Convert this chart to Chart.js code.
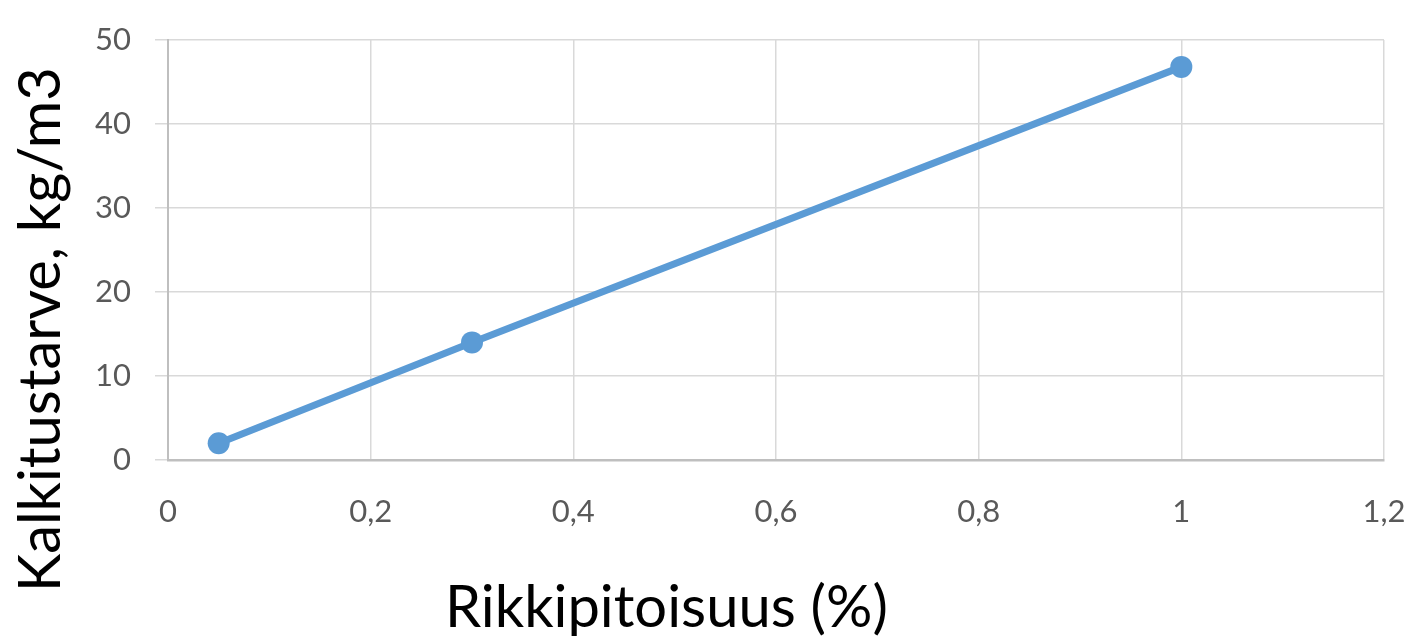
<!DOCTYPE html>
<html>
<head>
<meta charset="utf-8">
<script src="https://cdn.jsdelivr.net/npm/chart.js@4/dist/chart.umd.min.js"></script>
<style>
  html, body { margin: 0; padding: 0; background: #ffffff; }
  canvas { display: block; }
</style>
</head>
<body>
<canvas id="c" width="1415" height="636"></canvas>
<script>
// ---- data ----
const sulfurPercent = [0.05, 0.3, 1];
const limeDemand = [2, 14, 46.8];
const xTickLabels = ['0', '0,2', '0,4', '0,6', '0,8', '1', '1,2'];
const yTickLabels = ['0', '10', '20', '30', '40', '50'];
const xTitle = 'Rikkipitoisuus (%)';
const yTitle = 'Kalkitustarve, kg/m3';

const points = sulfurPercent.map((x, i) => ({ x: x, y: limeDemand[i] }));

const titlePlugin = {
  id: 'bigTitles',
  afterDraw(chart) {
    const ctx = chart.ctx;
    ctx.save();
    ctx.fillStyle = '#000000';
    let fs = 60;
    ctx.font = fs + 'px Lato';
    let w = ctx.measureText(xTitle).width;
    fs = fs * 443 / w;
    ctx.font = fs + 'px Lato';
    ctx.textAlign = 'left';
    ctx.textBaseline = 'alphabetic';
    ctx.fillText(xTitle, 445, 627);
    let fy = 60;
    ctx.font = fy + 'px Lato';
    w = ctx.measureText(yTitle).width;
    fy = fy * 525 / w;
    ctx.font = fy + 'px Lato';
    ctx.translate(60, 592);
    ctx.rotate(-Math.PI / 2);
    ctx.fillText(yTitle, 0, 0);
    ctx.restore();
  }
};

new Chart(document.getElementById('c'), {
  type: 'scatter',
  data: {
    datasets: [{
      data: points,
      showLine: true,
      borderColor: '#5B9BD5',
      backgroundColor: '#5B9BD5',
      borderWidth: 7,
      pointRadius: 11,
      pointHoverRadius: 11,
      pointBorderWidth: 0,
      tension: 0
    }]
  },
  options: {
    responsive: false,
    devicePixelRatio: 1,
    animation: false,
    layout: { padding: { left: 0, top: 40, right: 31, bottom: 0 } },
    plugins: {
      legend: { display: false },
      tooltip: { enabled: false }
    },
    scales: {
      x: {
        type: 'linear',
        min: 0,
        max: 1.2,
        afterFit(scale) {
          scale.height = 176;
          scale.paddingLeft = 0; scale.paddingRight = 0;
          scale.paddingTop = 0; scale.paddingBottom = 0;
        },
        afterBuildTicks(scale) {
          scale.ticks = xTickLabels.map((l, i) => ({ value: i * 0.2 }));
        },
        ticks: {
          font: { family: 'Lato', size: 31 },
          color: '#595959',
          padding: 33,
          maxRotation: 0,
          autoSkip: false,
          callback: (v, i) => xTickLabels[i]
        },
        grid: { color: '#d9d9d9', lineWidth: 1.5, drawTicks: false },
        border: { color: '#bfbfbf', width: 2.5 }
      },
      y: {
        min: 0,
        max: 50,
        afterFit(scale) {
          scale.width = 168;
          scale.paddingLeft = 0; scale.paddingRight = 0;
          scale.paddingTop = 0; scale.paddingBottom = 0;
        },
        ticks: {
          stepSize: 10,
          font: { family: 'Lato', size: 31 },
          color: '#595959',
          padding: 24,
          callback: (v, i) => yTickLabels[i]
        },
        grid: { color: '#d9d9d9', lineWidth: 1.5, tickLength: 13 },
        border: { color: '#bfbfbf', width: 2 }
      }
    }
  },
  plugins: [titlePlugin]
});
</script>
</body>
</html>
